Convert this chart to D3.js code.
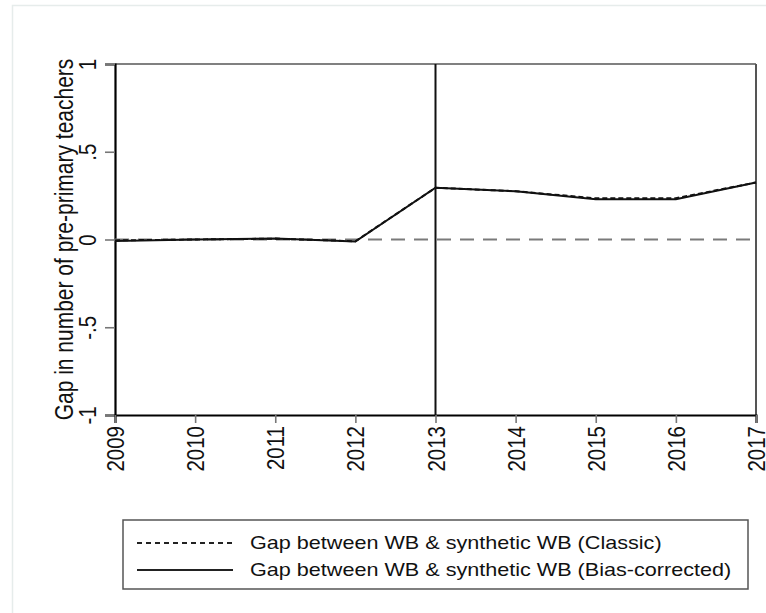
<!DOCTYPE html>
<html>
<head>
<meta charset="utf-8">
<script src="https://cdn.jsdelivr.net/npm/d3@7"></script>
<style>
  html, body { margin: 0; padding: 0; background: #fff; }
  svg { display: block; font-family: "Liberation Sans", Arial, sans-serif; }
</style>
</head>
<body>
<svg id="chart" width="766" height="613"></svg>
<script>
// Years on the x axis
const years = [2009, 2010, 2011, 2012, 2013, 2014, 2015, 2016, 2017];
// Gap between WB and synthetic WB, classic estimator
const classicGap = [-0.005, 0.0, 0.005, -0.01, 0.295, 0.275, 0.235, 0.235, 0.325];
// Gap between WB and synthetic WB, bias-corrected estimator
const biasCorrectedGap = [-0.008, 0.0, 0.005, -0.012, 0.295, 0.275, 0.23, 0.23, 0.325];
// Y tick values and their labels
const yTicks = [-1, -0.5, 0, 0.5, 1];
const yTickLabels = ["-1", "-.5", "0", ".5", "1"];
const treatmentYear = 2013;
const seriesNames = [
  "Gap between WB & synthetic WB (Classic)",
  "Gap between WB & synthetic WB (Bias-corrected)"
];

// text is drawn slightly wide, as in the exported figure
const STRETCH = 1.2;

const svg = d3.select("#chart");

// faint outer page frame
svg.append("rect")
  .attr("x", 12.5).attr("y", 5.5).attr("width", 780).attr("height", 640)
  .attr("fill", "none").attr("stroke", "#e6eceb").attr("stroke-width", 1.5);

const x = d3.scaleLinear().domain([2009, 2017]).range([115, 756]);
const y = d3.scaleLinear().domain([-1, 1]).range([415, 64]);

// plot region border (top and right)
svg.append("line").attr("x1", 115).attr("x2", 756).attr("y1", 64).attr("y2", 64)
  .attr("stroke", "#808080").attr("stroke-width", 2);
svg.append("line").attr("x1", 756).attr("x2", 756).attr("y1", 64).attr("y2", 415)
  .attr("stroke", "#555").attr("stroke-width", 2);

// Y axis
const yAxis = d3.axisLeft(y)
  .tickValues(yTicks)
  .tickFormat((d, i) => yTickLabels[i])
  .tickSize(10)
  .tickPadding(0);
const gy = svg.append("g").attr("transform", "translate(115,0)").call(yAxis);
gy.select(".domain").attr("stroke", "#000").attr("stroke-width", 2.2);
gy.selectAll(".tick line").attr("stroke", "#777").attr("stroke-width", 1.6);
gy.selectAll(".tick text")
  .attr("font-size", 20.5).attr("fill", "#111")
  .attr("text-anchor", "middle")
  .attr("x", 0).attr("y", 0).attr("dy", 0)
  .attr("transform", `translate(-19,0) scale(${STRETCH},1) rotate(-90)`);

// X axis
const xAxis = d3.axisBottom(x)
  .tickValues(years)
  .tickFormat(d3.format("d"))
  .tickSize(8)
  .tickPadding(0);
const gx = svg.append("g").attr("transform", "translate(0,415)").call(xAxis);
gx.select(".domain").attr("stroke", "#000").attr("stroke-width", 2.2);
gx.selectAll(".tick line").attr("stroke", "#777").attr("stroke-width", 1.6);
gx.selectAll(".tick text")
  .attr("font-size", 20.5).attr("fill", "#111")
  .attr("text-anchor", "end")
  .attr("x", 0).attr("y", 0).attr("dy", "0.35em")
  .attr("transform", `translate(0,11) scale(${STRETCH},1) rotate(-90)`);

// Y axis title
svg.append("text")
  .attr("transform", `translate(73,${y(0)}) scale(${STRETCH},1) rotate(-90)`)
  .attr("text-anchor", "middle")
  .attr("font-size", 21).attr("fill", "#111")
  .text("Gap in number of pre-primary teachers");

// zero reference line
svg.append("line")
  .attr("x1", x(2009)).attr("x2", x(2017))
  .attr("y1", y(0)).attr("y2", y(0))
  .attr("stroke", "#7a7a7a").attr("stroke-width", 2)
  .attr("stroke-dasharray", "14,9");

// treatment year line
svg.append("line")
  .attr("x1", x(treatmentYear)).attr("x2", x(treatmentYear))
  .attr("y1", y(1)).attr("y2", y(-1))
  .attr("stroke", "#111").attr("stroke-width", 2);

const line = d3.line().x((d, i) => x(years[i])).y(d => y(d));

svg.append("path").datum(biasCorrectedGap)
  .attr("d", line).attr("fill", "none")
  .attr("stroke", "#111").attr("stroke-width", 2);
svg.append("path").datum(classicGap)
  .attr("d", line).attr("fill", "none")
  .attr("stroke", "#111").attr("stroke-width", 2)
  .attr("stroke-dasharray", "5,3");

// legend
const lg = svg.append("g");
lg.append("rect").attr("x", 123).attr("y", 520).attr("width", 625).attr("height", 69)
  .attr("fill", "#fff").attr("stroke", "#555").attr("stroke-width", 1.5);
const dashes = ["5,4", null];
seriesNames.forEach((name, i) => {
  const yy = 543 + i * 27;
  const l = lg.append("line").attr("x1", 137).attr("x2", 233).attr("y1", yy).attr("y2", yy)
    .attr("stroke", "#222").attr("stroke-width", 1.8);
  if (dashes[i]) l.attr("stroke-dasharray", dashes[i]);
  lg.append("text")
    .attr("transform", `translate(250,${yy}) scale(${STRETCH},1)`)
    .attr("dy", "0.35em")
    .attr("font-size", 18).attr("fill", "#111").text(name);
});
</script>
</body>
</html>
